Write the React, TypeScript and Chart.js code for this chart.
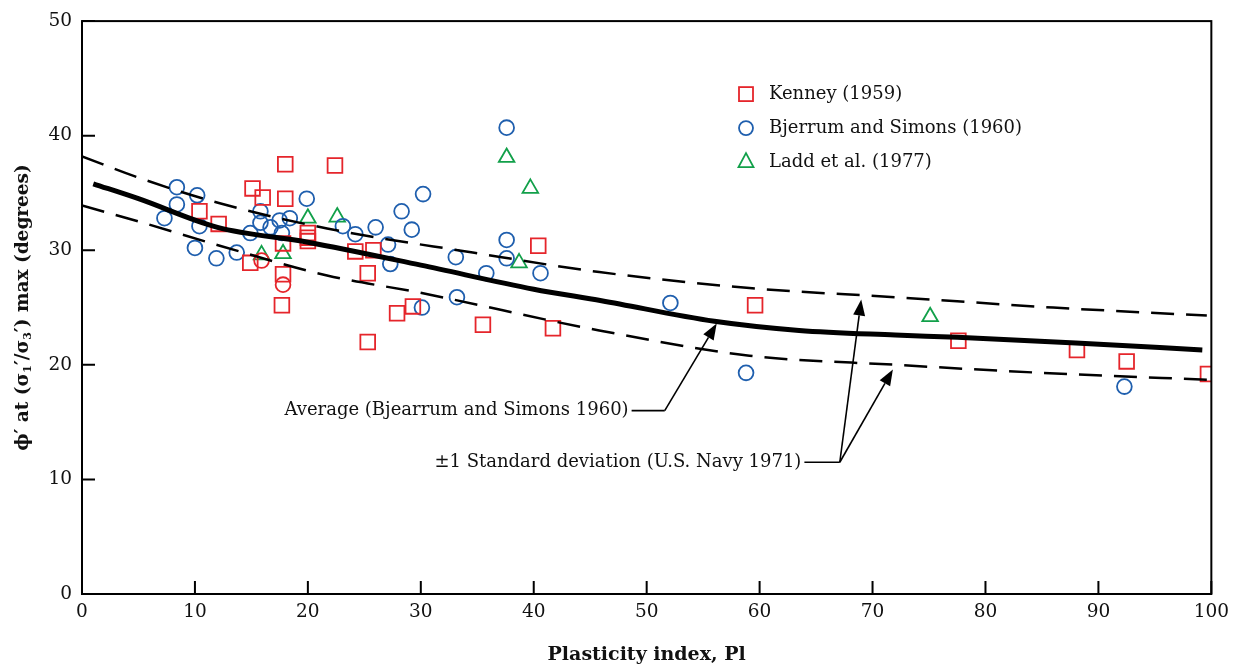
import React, { useEffect, useRef } from "react";
import { Chart, registerables } from "chart.js";

Chart.register(...registerables);

// ---------- Data ----------
const kenneyX = [10.4, 12.1, 14.9, 15.1, 16.0, 18.0, 18.0, 17.8, 17.8, 17.7, 20.0, 20.0, 20.0, 22.4, 24.2, 25.8, 25.3, 25.3, 27.9, 29.3, 35.5, 40.4, 41.7, 59.6, 77.6, 88.1, 92.5, 99.7];
const kenneyY = [33.4, 32.3, 28.9, 35.4, 34.6, 37.5, 34.5, 30.6, 27.9, 25.2, 31.5, 31.1, 30.8, 37.4, 29.9, 30.0, 28.0, 22.0, 24.5, 25.1, 23.5, 30.4, 23.2, 25.2, 22.1, 21.3, 20.3, 19.2];

// red circles (Kenney, drawn as circles in the original)
const kenneyCircX = [15.9, 17.8];
const kenneyCircY = [29.1, 27.0];

const bjerrumX = [7.3, 8.4, 8.4, 10.2, 10.4, 10.0, 11.9, 13.7, 14.9, 15.8, 15.8, 16.7, 17.5, 18.4, 17.7, 19.9, 23.1, 24.2, 26.0, 28.3, 30.2, 29.2, 27.1, 27.3, 30.1, 33.1, 33.2, 35.8, 37.6, 37.6, 37.6, 40.6, 52.1, 58.8, 92.3];
const bjerrumY = [32.8, 35.5, 34.0, 34.8, 32.1, 30.2, 29.3, 29.8, 31.5, 33.4, 32.4, 32.0, 32.6, 32.8, 31.5, 34.5, 32.1, 31.4, 32.0, 33.4, 34.9, 31.8, 30.5, 28.8, 25.0, 29.4, 25.9, 28.0, 40.7, 30.9, 29.3, 28.0, 25.4, 19.3, 18.1];

const laddX = [15.9, 17.8, 20.0, 22.6, 37.6, 39.7, 38.7, 75.1];
const laddY = [29.6, 29.7, 32.8, 32.9, 38.1, 35.4, 28.9, 24.2];

const avgX = [1, 5, 12, 20, 30, 40, 46, 56, 63.5, 72, 77.5, 88, 99.2];
const avgY = [35.8, 34.5, 32.0, 30.7, 28.7, 26.6, 25.6, 23.8, 23.0, 22.6, 22.4, 21.9, 21.3];

const upperX = [0, 5.4, 12.2, 21.7, 34.6, 45.8, 59.1, 72.1, 86, 99.6];
const upperY = [38.2, 36.2, 34.1, 31.9, 29.8, 28.1, 26.7, 25.9, 25.0, 24.3];

const lowerX = [0, 5.4, 12.2, 21.7, 29.9, 45.8, 59.1, 72.1, 85, 99.6];
const lowerY = [33.9, 32.4, 30.4, 27.8, 26.3, 23.0, 20.8, 20.0, 19.3, 18.7];

const xTicks = [0, 10, 20, 30, 40, 50, 60, 70, 80, 90, 100];
const yTicks = [0, 10, 20, 30, 40, 50];

const legendLabels = ["Kenney (1959)", "Bjerrum and Simons (1960)", "Ladd et al. (1977)"];
const xTitle = "Plasticity index, Pl";
const avgLabel = "Average (Bjearrum and Simons 1960)";
const sdLabel = "±1 Standard deviation (U.S. Navy 1971)";

// annotation anchors in data units
const avgTextEnd = [48.4, 16.0];
const avgElbow = [51.6, 16.0];
const avgTip = [56.2, 23.6];
const sdTextEnd = [63.7, 11.5];
const sdElbow = [67.1, 11.5];
const sdTipUpper = [69.0, 25.7];
const sdTipLower = [71.8, 19.6];

const RED = "#e5252b";
const BLUE = "#1f5fae";
const GREEN = "#12a04a";
const FONT = "'DejaVu Serif', serif";

const pts = (xs: number[], ys: number[]) => xs.map((x, i) => ({ x, y: ys[i] }));

function drawArrow(ctx: CanvasRenderingContext2D, x0: number, y0: number, x1: number, y1: number) {
  const ang = Math.atan2(y1 - y0, x1 - x0);
  const len = 16;
  const w = 6;
  const bx = x1 - Math.cos(ang) * len;
  const by = y1 - Math.sin(ang) * len;
  ctx.beginPath();
  ctx.moveTo(x0, y0);
  ctx.lineTo(bx, by);
  ctx.stroke();
  ctx.beginPath();
  ctx.moveTo(x1, y1);
  ctx.lineTo(bx + Math.sin(ang) * w, by - Math.cos(ang) * w);
  ctx.lineTo(bx - Math.sin(ang) * w, by + Math.cos(ang) * w);
  ctx.closePath();
  ctx.fill();
}

const decorPlugin = {
  id: "decor",
  afterDraw(chart: any) {
    const { ctx, chartArea, scales } = chart;
    const xs = scales.x;
    const ys = scales.y;
    const { left, right, top, bottom } = chartArea;
    ctx.save();
    // frame
    ctx.strokeStyle = "#000";
    ctx.lineWidth = 2;
    ctx.strokeRect(left, top, right - left, bottom - top);
    // inward ticks
    ctx.beginPath();
    xTicks.forEach((v) => {
      const px = xs.getPixelForValue(v);
      ctx.moveTo(px, bottom);
      ctx.lineTo(px, bottom - 13);
    });
    yTicks.forEach((v) => {
      const py = ys.getPixelForValue(v);
      ctx.moveTo(left, py);
      ctx.lineTo(left + 13, py);
    });
    ctx.stroke();

    // legend
    const lx = left + 664;
    const ly0 = top + 73;
    const dy = 34;
    ctx.lineWidth = 1.8;
    // square
    ctx.strokeStyle = RED;
    ctx.strokeRect(lx - 7, ly0 - 7, 14, 14);
    // circle
    ctx.strokeStyle = BLUE;
    ctx.beginPath();
    ctx.arc(lx, ly0 + dy, 7, 0, Math.PI * 2);
    ctx.stroke();
    // triangle
    ctx.strokeStyle = GREEN;
    const ty = ly0 + 2 * dy - 1;
    ctx.beginPath();
    ctx.moveTo(lx, ty - 8);
    ctx.lineTo(lx + 7.5, ty + 6);
    ctx.lineTo(lx - 7.5, ty + 6);
    ctx.closePath();
    ctx.stroke();
    ctx.fillStyle = "#111";
    ctx.font = `18px ${FONT}`;
    ctx.textBaseline = "middle";
    ctx.textAlign = "left";
    legendLabels.forEach((t, i) => ctx.fillText(t, lx + 23, ly0 + i * dy));

    // annotations
    const P = (p: number[]) => [xs.getPixelForValue(p[0]), ys.getPixelForValue(p[1])];
    ctx.strokeStyle = "#000";
    ctx.fillStyle = "#000";
    ctx.lineWidth = 1.6;
    const a0 = P(avgTextEnd), a1 = P(avgElbow), a2 = P(avgTip);
    ctx.beginPath();
    ctx.moveTo(a0[0] + 3, a0[1]);
    ctx.lineTo(a1[0], a1[1]);
    ctx.stroke();
    drawArrow(ctx, a1[0], a1[1], a2[0], a2[1]);
    const s0 = P(sdTextEnd), s1 = P(sdElbow), s2 = P(sdTipUpper), s3 = P(sdTipLower);
    ctx.beginPath();
    ctx.moveTo(s0[0] + 3, s0[1]);
    ctx.lineTo(s1[0], s1[1]);
    ctx.stroke();
    drawArrow(ctx, s1[0], s1[1], s2[0], s2[1]);
    drawArrow(ctx, s1[0], s1[1], s3[0], s3[1]);
    ctx.fillStyle = "#111";
    ctx.font = `18px ${FONT}`;
    ctx.textAlign = "right";
    ctx.fillText(avgLabel, a0[0], a0[1]);
    ctx.fillText(sdLabel, s0[0], s0[1]);

    // x title
    ctx.font = `bold 19px ${FONT}`;
    ctx.textAlign = "center";
    ctx.fillText(xTitle, (left + right) / 2, bottom + 61);

    // y title with subscripts
    const parts: [string, boolean][] = [
      ["ϕ′ at (σ", false],
      ["1", true],
      ["′/σ", false],
      ["3", true],
      ["′) max (degrees)", false],
    ];
    const mainF = `bold 18.5px ${FONT}`;
    const subF = `bold 11px ${FONT}`;
    let total = 0;
    parts.forEach(([t, s]) => {
      ctx.font = s ? subF : mainF;
      total += ctx.measureText(t).width;
    });
    ctx.translate(23, (top + bottom) / 2);
    ctx.rotate(-Math.PI / 2);
    ctx.textAlign = "left";
    let cx = -total / 2;
    parts.forEach(([t, s]) => {
      ctx.font = s ? subF : mainF;
      ctx.fillText(t, cx, s ? 5 : 0);
      cx += ctx.measureText(t).width;
    });
    ctx.restore();
  },
};

export default function App() {
  const ref = useRef<HTMLCanvasElement | null>(null);
  useEffect(() => {
    document.body.style.margin = "0";
    if (!ref.current) return;
    const chart = new Chart(ref.current, {
      type: "scatter",
      data: {
        datasets: [
          {
            label: "avg",
            data: pts(avgX, avgY),
            showLine: true,
            borderColor: "#000",
            borderWidth: 5,
            pointRadius: 0,
            cubicInterpolationMode: "monotone",
          } as any,
          {
            label: "upper",
            data: pts(upperX, upperY),
            showLine: true,
            borderColor: "#000",
            borderWidth: 2.5,
            borderDash: [23, 12],
            pointRadius: 0,
            cubicInterpolationMode: "monotone",
          } as any,
          {
            label: "lower",
            data: pts(lowerX, lowerY),
            showLine: true,
            borderColor: "#000",
            borderWidth: 2.5,
            borderDash: [23, 12],
            pointRadius: 0,
            cubicInterpolationMode: "monotone",
          } as any,
          {
            label: legendLabels[0],
            data: pts(kenneyX, kenneyY),
            pointStyle: "rect",
            pointRadius: 10.4,
            pointBorderWidth: 1.8,
            pointBorderColor: RED,
            pointBackgroundColor: "rgba(0,0,0,0)",
          } as any,
          {
            label: "kenney circles",
            data: pts(kenneyCircX, kenneyCircY),
            pointStyle: "circle",
            pointRadius: 7.4,
            pointBorderWidth: 1.8,
            pointBorderColor: RED,
            pointBackgroundColor: "rgba(0,0,0,0)",
          } as any,
          {
            label: legendLabels[1],
            data: pts(bjerrumX, bjerrumY),
            pointStyle: "circle",
            pointRadius: 7.4,
            pointBorderWidth: 1.8,
            pointBorderColor: BLUE,
            pointBackgroundColor: "rgba(0,0,0,0)",
          } as any,
          {
            label: legendLabels[2],
            data: pts(laddX, laddY),
            pointStyle: "triangle",
            pointRadius: 9,
            pointBorderWidth: 1.8,
            pointBorderColor: GREEN,
            pointBackgroundColor: "rgba(0,0,0,0)",
          } as any,
        ],
      },
      options: {
        animation: false,
        responsive: false,
        devicePixelRatio: 1,
        layout: { padding: { top: 20, right: 23, left: 0, bottom: 0 } },
        plugins: { legend: { display: false }, tooltip: { enabled: false } },
        scales: {
          x: {
            type: "linear",
            min: 0,
            max: 100,
            afterBuildTicks: (s: any) => {
              s.ticks = xTicks.map((v) => ({ value: v }));
            },
            afterFit: (s: any) => {
              s.height = 72;
            },
            grid: { display: false, drawTicks: false },
            border: { display: false },
            ticks: { color: "#111", font: { family: FONT, size: 18.5 }, padding: 7, maxRotation: 0 },
          },
          y: {
            type: "linear",
            min: 0,
            max: 50,
            afterBuildTicks: (s: any) => {
              s.ticks = yTicks.map((v) => ({ value: v }));
            },
            afterFit: (s: any) => {
              s.width = 82;
            },
            grid: { display: false, drawTicks: false },
            border: { display: false },
            ticks: { color: "#111", font: { family: FONT, size: 18.5 }, padding: 10 },
          },
        },
      } as any,
      plugins: [decorPlugin],
    });
    return () => chart.destroy();
  }, []);
  return (
    <div style={{ width: 1236, height: 666, background: "#fff" }}>
      <canvas ref={ref} width={1236} height={666} style={{ display: "block" }} />
    </div>
  );
}
